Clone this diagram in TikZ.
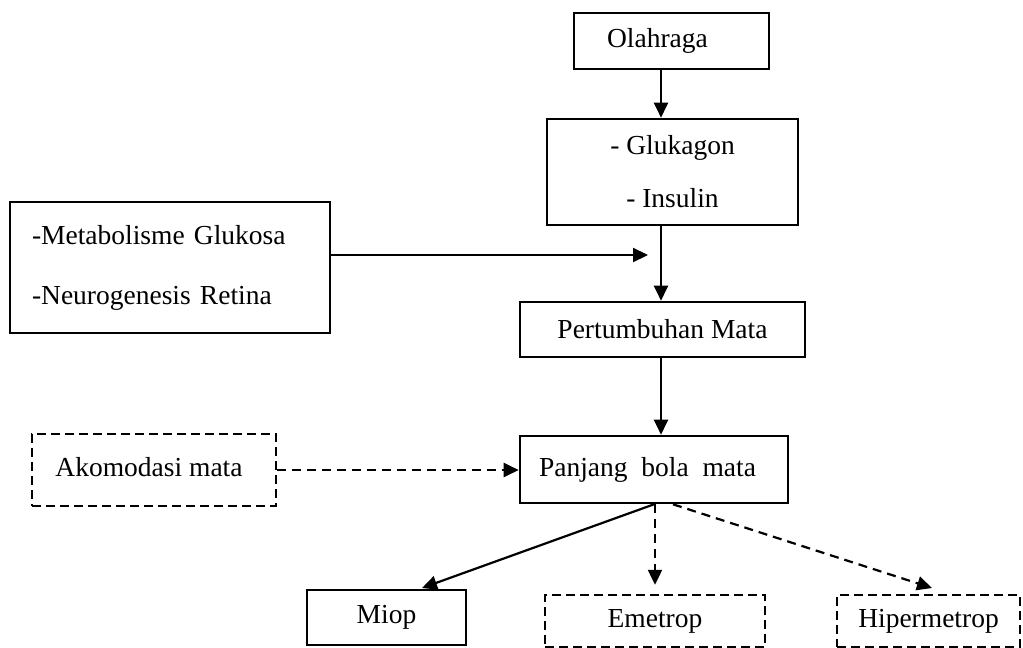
\documentclass[tikz,border=0pt]{standalone}
\usepackage{fontspec}
\setmainfont{Liberation Serif}
\usetikzlibrary{arrows.meta,calc}
\begin{document}
\begin{tikzpicture}[x=1pt,y=-1pt,
  box/.style={draw, line width=2.6pt, rectangle, inner sep=0pt, font=\fontsize{27.5}{32}\selectfont},
  dbox/.style={box, dash pattern=on 9pt off 5pt, line width=2.4pt},
  arr/.style={line width=2.2pt, -{Triangle[length=15pt,width=14pt]}},
  darr/.style={arr, dash pattern=on 9pt off 6pt}]
\useasboundingbox (0,0) rectangle (1023,648);
\node[box, minimum width=195pt, minimum height=56pt] (ola) at (671.5,41) {Olahraga\hspace*{28pt}};
\node[box, minimum width=251pt, minimum height=106pt, align=center, font=\fontsize{27.5}{53}\selectfont] (glu) at (672.5,172) {- Glukagon\\- Insulin};
\node[box, text width=276pt, inner xsep=22pt, minimum height=131pt, align=left, font=\fontsize{27.5}{60}\selectfont] (meta) at (170,267.5) {-Metabolisme Glukosa\\-Neurogenesis Retina};
\node[box, minimum width=285pt, minimum height=55pt] (pert) at (662.5,329.5) {Pertumbuhan Mata};
\node[box, minimum width=268pt, minimum height=67pt] (pan) at (654,469.5) {Panjang \ bola \ mata\hspace*{13pt}};
\node[dbox, minimum width=244pt, minimum height=72pt] (ako) at (154,470) {\raisebox{7pt}{Akomodasi mata}\hspace*{10pt}};
\node[box, minimum width=159pt, minimum height=55pt] (miop) at (386.5,617.5) {Miop};
\node[dbox, minimum width=220pt, minimum height=52pt] (eme) at (655,621) {Emetrop};
\node[dbox, minimum width=183pt, minimum height=52pt] (hip) at (928.5,621) {Hipermetrop};
\coordinate (axis) at (661,0);
\coordinate (mtip) at (648,255);
\coordinate (miotip) at (422,588);
\coordinate (hiptip) at (932,588);
\draw[arr] (ola.south -| axis) -- (glu.north -| axis);
\draw[arr] (glu.south -| axis) -- (pert.north -| axis);
\draw[arr] (meta.east |- mtip) -- (mtip);
\draw[arr] (pert.south -| axis) -- (pan.north -| axis);
\draw[darr] (ako.east) -- (ako.east -| pan.west);
\draw[arr] (pan.south) -- (miotip);
\draw[darr, shorten >=9pt] (pan.south -| eme.north) -- (eme.north);
\draw[darr] ($(pan.south)+(19,0)$) -- (hiptip);
\end{tikzpicture}
\end{document}
